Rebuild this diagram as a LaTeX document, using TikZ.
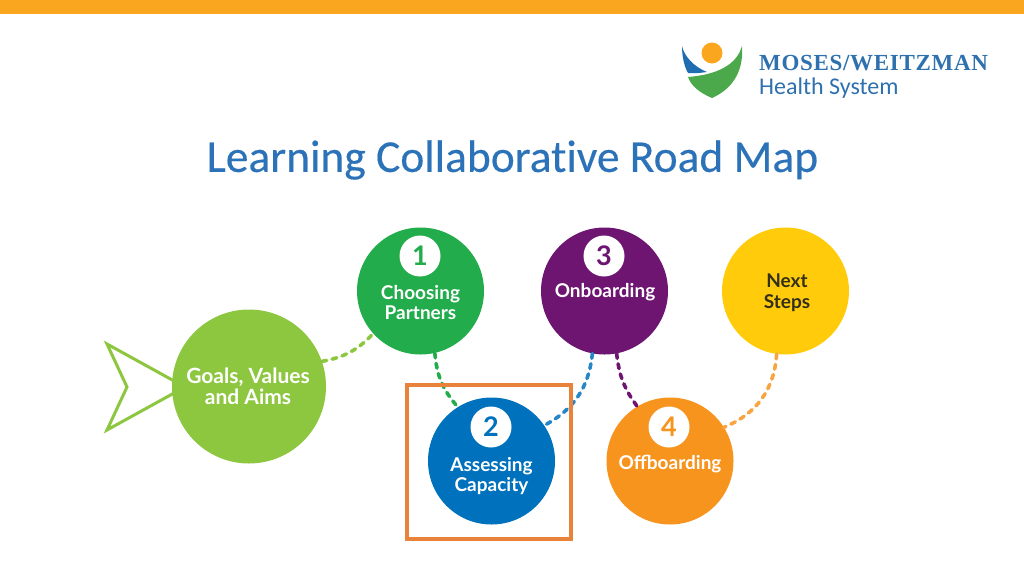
\documentclass[tikz,border=0pt]{standalone}
\usepackage{fontspec}
\setmainfont{Lato}
\newfontfamily\titlefont[Ligatures=NoCommon, FakeBold=0.35]{Carlito}
\newfontfamily\logosans{Carlito}
\newfontfamily\logoserif[LetterSpace=3]{Liberation Serif}
\definecolor{barorange}{HTML}{FBA61F}
\definecolor{titleblue}{HTML}{2C72B8}
\definecolor{logoblue}{HTML}{2F70AE}
\definecolor{logoshade}{HTML}{1F6DB0}
\definecolor{logogreen}{HTML}{4BA94B}
\definecolor{limegreen}{HTML}{8DC63F}
\definecolor{stagegreen}{HTML}{22AC4B}
\definecolor{stageblue}{HTML}{0071BC}
\definecolor{stagepurple}{HTML}{6D1570}
\definecolor{stageorange}{HTML}{F7941E}
\definecolor{stageyellow}{HTML}{FFCB0B}
\definecolor{boxorange}{HTML}{E9823A}
\definecolor{nextdark}{HTML}{33301A}
\tikzset{
  stage/.style={circle, inner sep=0pt, minimum size=127pt},
  badge/.style={circle, fill=white, inner sep=0pt, minimum size=41pt, font=\bfseries\fontsize{27}{27}\selectfont},
  caption/.style={align=center, text=white, font=\bfseries\fontsize{19}{20}\selectfont},
  link/.style={line width=3.6pt, dash pattern=on 4.8pt off 5.6pt, line cap=round}
}
\begin{document}
\begin{tikzpicture}[x=1pt, y=-1pt]
  \useasboundingbox (0,0) rectangle (1024,576);

  \fill[barorange] (0,0) rectangle (1024,13.5);

  % logo
  \fill[logoshade] (682,46) .. controls (684,56) and (694,67) .. (707,72)
    .. controls (700,73) and (695,73.5) .. (688,73) .. controls (684,66) and (682,56) .. cycle;
  \fill[logogreen] (742,46) .. controls (738,60) and (725,74) .. (688,77)
    .. controls (691,86) and (700,93) .. (712,98)
    .. controls (730,90) and (744,74) .. cycle;
  \fill[barorange] (712,53) circle (10.5);
  \node[anchor=base west, inner sep=0pt, text=logoblue, font=\logoserif\bfseries\fontsize{23}{23}\selectfont] (logoname) at (759,70) {MOSES/WEITZMAN};
  \node[anchor=base west, inner sep=0pt, text=logoblue, font=\logosans\fontsize{24}{24}\selectfont] (logosub) at (759,94) {Health System};

  \node[text=titleblue, inner sep=0pt, font=\titlefont\fontsize{45.5}{45.5}\selectfont] (title) at (512.5,160) {Learning Collaborative Road Map};

  % arrow behind the first circle
  \draw[limegreen, line width=3pt, miter limit=8, fill=white] (107,344) -- (185,387) -- (107,430) -- (127,387) -- cycle;

  \node[stage, fill=limegreen, minimum size=154pt] (goals) at (249,386.5) {};
  \node[stage, fill=stagegreen] (choosing) at (420.5,291) {};
  \node[stage, fill=stagepurple] (onboarding) at (604.5,291) {};
  \node[stage, fill=stageyellow] (next) at (785.5,291) {};
  \node[stage, fill=stageblue] (assessing) at (491.5,461) {};
  \node[stage, fill=stageorange] (offboarding) at (670,461) {};

  \node[badge, text=stagegreen] (one) at (420,256) {1};
  \node[badge, text=stageblue] (two) at (491,427) {2};
  \node[badge, text=stagepurple] (three) at (604,256) {3};
  \node[badge, text=stageorange] (four) at (669,427) {4};

  \node[caption, font=\bfseries\fontsize{21}{21.5}\selectfont] (goalstext) at (248,386.5) {Goals, Values\\and Aims};
  \node[caption] (choosingtext) at (420.5,302.5) {Choosing\\Partners};
  \node[caption] (onboardingtext) at (605,292.5) {Onboarding};
  \node[caption, text=nextdark, font=\bfseries\fontsize{19}{21}\selectfont] (nexttext) at (787,293) {Next\\Steps};
  \node[caption] (assessingtext) at (491.5,476.5) {Assessing\\Capacity};
  \node[caption] (offboardingtext) at (670,464) {Offboarding};

  \draw[link, limegreen] (goals.19) to[bend right=18] (choosing.222);
  \draw[link, stagegreen] (choosing.-77) to[bend right=18] (assessing.122);
  \draw[link, stageblue!85!white] (onboarding.-101) to[bend left=28] (assessing.34);
  \draw[link, stagepurple] (onboarding.-79) to[bend right=15] (offboarding.121);
  \draw[link, stageorange!85!white] (next.-98) to[bend left=32] (offboarding.32);

  \draw[boxorange, line width=4.2pt] (407,385) rectangle (571,539);
\end{tikzpicture}
\end{document}
